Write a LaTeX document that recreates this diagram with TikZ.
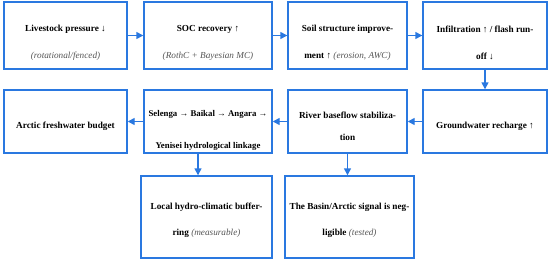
\documentclass[tikz,border=0pt]{standalone}
\usepackage{amsmath,amssymb}
\usepackage{fontspec}
\setmainfont{Liberation Serif}
\usepackage{tikz}
\usetikzlibrary{arrows.meta, positioning, calc}
\usepackage{xcolor}
\definecolor{flowblue}{HTML}{2A78E0}
\definecolor{flowgray}{HTML}{555555}
\newcommand{\aside}[1]{{\mdseries\itshape\color{flowgray}#1}}

\begin{document}
\begin{tikzpicture}[font=\fontsize{10.5}{12}\selectfont\bfseries, >={Triangle[length=2.8mm, width=2.8mm]},
  box/.style={draw=flowblue, line width=1.6pt},
  txt/.style={align=center, inner sep=0pt},
  arr/.style={flowblue, line width=1.6pt, ->}]
  \useasboundingbox (0,0) rectangle (22,-10.48);
  % top row: land management to water
  \node[box, minimum width=4.92cm, minimum height=2.68cm] (lsp) at (2.62,-1.42) {};
  \node[box, minimum width=5.12cm, minimum height=2.68cm] (soc) at (8.32,-1.42) {};
  \node[box, minimum width=4.76cm, minimum height=2.68cm] (soil) at (13.9,-1.42) {};
  \node[box, minimum width=4.96cm, minimum height=2.68cm] (infl) at (19.4,-1.42) {};
  \node[txt] (lsp-t) at ([yshift=-0.3cm]lsp) {Livestock pressure ↓\\[18.7pt]\aside{(rotational/fenced)}};
  \node[txt] (soc-t) at ([yshift=-0.3cm]soc) {SOC recovery ↑\\[18.7pt]\aside{(RothC + Bayesian MC)}};
  \node[txt] (soil-t) at ([yshift=-0.3cm]soil) {Soil structure improve-\\[18.7pt]ment ↑ \aside{(erosion, AWC)}};
  \node[txt] (infl-t) at ([yshift=-0.3cm]infl) {Infiltration ↑ / flash run-\\[18.7pt]off ↓};
  % middle row runs back to the left
  \node[box, minimum width=4.96cm, minimum height=2.52cm] (gw) at (19.4,-4.86) {};
  \node[box, minimum width=4.76cm, minimum height=2.52cm] (riv) at (13.9,-4.86) {};
  \node[box, minimum width=5.12cm, minimum height=2.52cm] (sel) at (8.32,-4.86) {};
  \node[box, minimum width=4.92cm, minimum height=2.52cm] (arc) at (2.62,-4.86) {};
  \node[txt] (gw-t) at ([yshift=-0.2cm]gw) {Groundwater recharge ↑};
  \node[txt] (riv-t) at ([yshift=-0.2cm]riv) {River baseflow stabiliza-\\[13pt]tion};
  \node[txt, font=\fontsize{10}{12}\selectfont\bfseries] (sel-t) at ([yshift=-0.36cm]sel)
    {Selenga → Baikal → Angara →\\[24.4pt]Yenisei hydrological linkage};
  \node[txt] (arc-t) at ([yshift=-0.2cm]arc) {Arctic freshwater budget};
  % bottom row: the two readings
  \node[box, minimum width=5.24cm, minimum height=3.28cm] (loc) at (8.26,-8.68) {};
  \node[box, minimum width=5.16cm, minimum height=3.28cm] (bas) at (13.98,-8.68) {};
  \node[txt] (loc-t) at ([yshift=-0.14cm]loc) {Local hydro-climatic buffer-\\[17.6pt]ring \aside{(measurable)}};
  \node[txt] (bas-t) at ([yshift=-0.14cm]bas) {The Basin/Arctic signal is neg-\\[17.6pt]ligible \aside{(tested)}};
  % connectors
  \draw[arr] (lsp) -- (soc);
  \draw[arr] (soc) -- (soil);
  \draw[arr] (soil) -- (infl);
  \draw[arr] (infl) -- (gw);
  \draw[arr] (gw) -- (riv);
  \draw[arr] (riv) -- (sel);
  \draw[arr] (sel) -- (arc);
  \draw[arr] ([xshift=-4mm]sel.south) -- ([xshift=-4mm]sel.south |- loc.north);
  \draw[arr] (riv.south) -- (riv.south |- bas.north);
\end{tikzpicture}
\end{document}
